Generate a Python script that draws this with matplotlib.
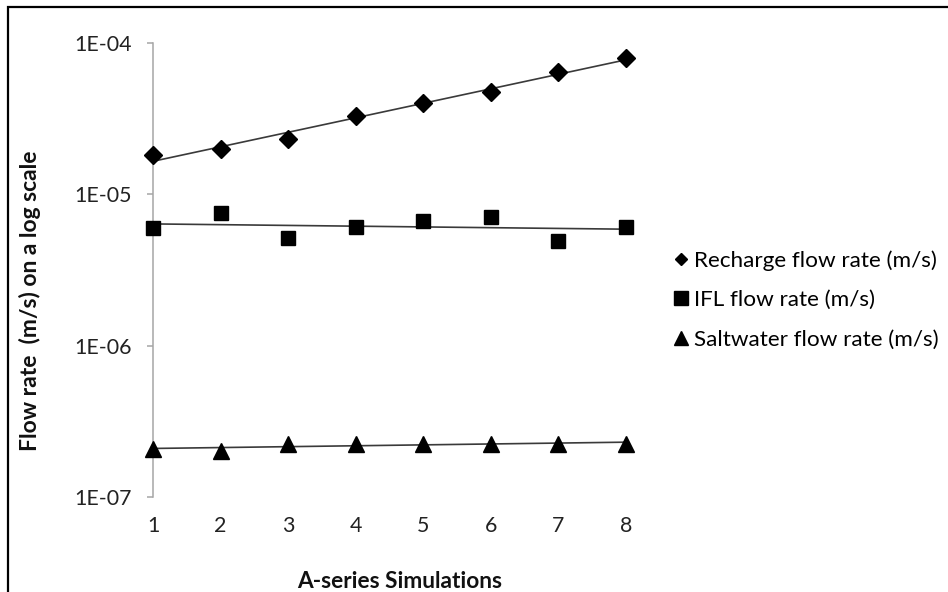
import numpy as np
import matplotlib.pyplot as plt
from matplotlib.lines import Line2D
from matplotlib.patches import Rectangle

plt.rcParams['font.family'] = ['Lato', 'DejaVu Sans']

# ---- data ----
sims = [1, 2, 3, 4, 5, 6, 7, 8]
recharge = [1.82e-5, 1.99e-5, 2.32e-5, 3.29e-5, 4.01e-5, 4.74e-5, 6.43e-5, 7.96e-5]
ifl = [5.98e-6, 7.52e-6, 5.14e-6, 6.08e-6, 6.67e-6, 7.08e-6, 4.91e-6, 6.08e-6]
saltwater = [2.07e-7, 2.01e-7, 2.25e-7, 2.25e-7, 2.25e-7, 2.25e-7, 2.25e-7, 2.25e-7]

series_labels = ['Recharge flow rate (m/s)', 'IFL flow rate (m/s)', 'Saltwater flow rate (m/s)']
ytick_vals = [1e-7, 1e-6, 1e-5, 1e-4]
ytick_labels = ['1E-07', '1E-06', '1E-05', '1E-04']


def exp_trend(x, y):
    # excel style exponential trendline
    x = np.asarray(x, dtype=float)
    coef = np.polyfit(x, np.log(y), 1)
    return x, np.exp(np.polyval(coef, x))


W, H = 948, 592
fig = plt.figure(figsize=(W / 100, H / 100), dpi=100)
ax = fig.add_axes([153 / W, 1 - 497 / H, (626 - 153) / W, (497 - 43) / H])

series = [(recharge, 'D', 8.9), (ifl, 's', 10.5), (saltwater, '^', 11)]
for vals, mk, ms in series:
    tx, ty = exp_trend(sims, vals)
    ax.plot(tx, ty, color='#3a3a3a', lw=1.2, zorder=2)
    ax.plot(sims, vals, linestyle='none', marker=mk, ms=ms, color='black',
            clip_on=False, zorder=3)

ax.set_yscale('log')
ax.set_ylim(1e-7, 1e-4)
ax.set_xlim(1, 8)
ax.set_yticks(ytick_vals)
ax.set_yticklabels(ytick_labels)
ax.yaxis.set_minor_locator(plt.NullLocator())
ax.set_xticks(sims)
ax.set_xticklabels([str(s) for s in sims])

for side in ['top', 'right', 'bottom']:
    ax.spines[side].set_visible(False)
ax.spines['left'].set_color('#a6a6a6')
ax.spines['left'].set_linewidth(1.1)
ax.tick_params(axis='y', length=4, width=1.1, color='#a6a6a6', pad=11,
               labelsize=15.4, labelcolor='#222222')
ax.tick_params(axis='x', length=0, pad=14, labelsize=15.4, labelcolor='#222222')

fig.text(30 / W, 1 - 301 / H, 'Flow rate  (m/s) on a log scale', rotation=90,
         ha='center', va='center', fontsize=16.5, fontweight='bold', color='#111111')
fig.text(400 / W, 1 - 581 / H, 'A-series Simulations', ha='center', va='center',
         fontsize=16.3, fontweight='bold', color='#111111')

handles = [Line2D([], [], linestyle='none', marker='D', ms=6.4, color='black'),
           Line2D([], [], linestyle='none', marker='s', ms=10.5, color='black'),
           Line2D([], [], linestyle='none', marker='^', ms=10, color='black')]
ax.legend(handles, series_labels, loc='center left', frameon=False,
          bbox_to_anchor=(672 / W, 1 - 300 / H), bbox_transform=fig.transFigure,
          fontsize=16.2, handlelength=0.8, handletextpad=0.2, labelspacing=0.85,
          borderpad=0, borderaxespad=0)

# chart border (only left and top edges fall inside the picture)
fig.patches.append(Rectangle((8 / W, -0.5), 1.2, 1.5 - 7 / H, fill=False,
                             edgecolor='black', lw=1.6, transform=fig.transFigure))

fig.savefig('out.png', dpi=100)
